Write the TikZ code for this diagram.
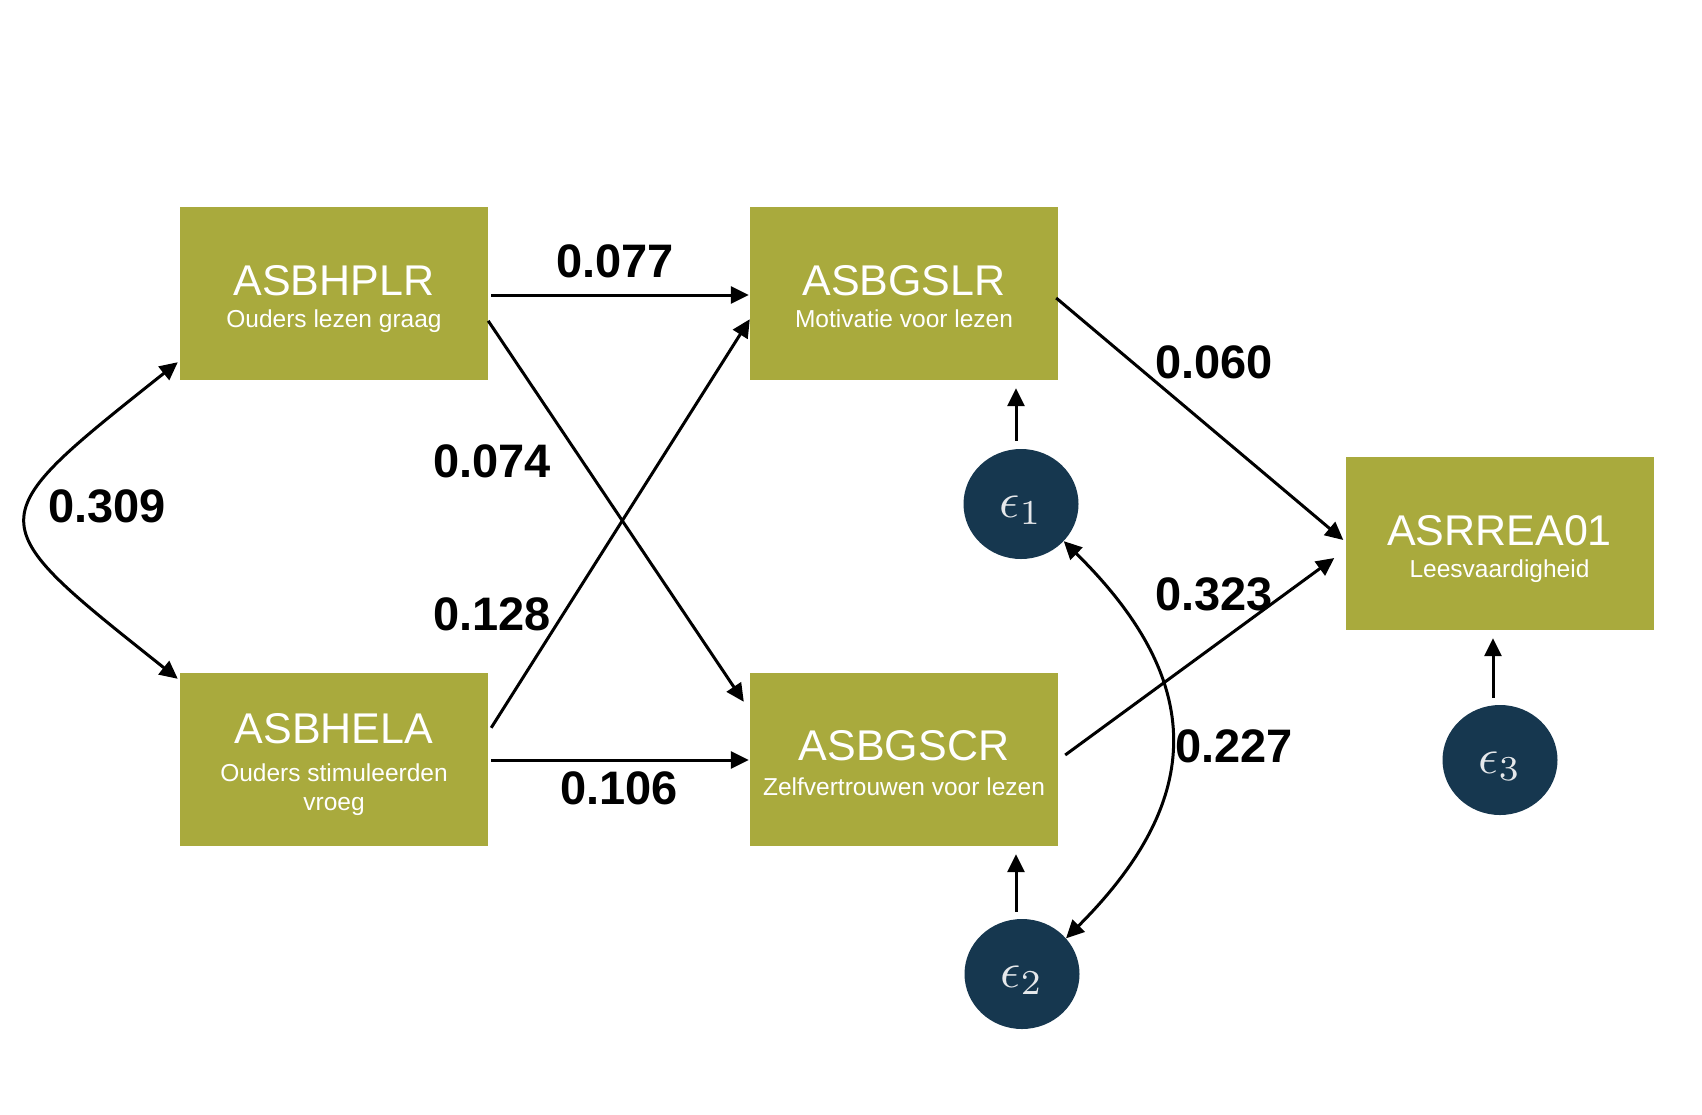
\documentclass[tikz,border=0pt]{standalone}
\usepackage{fontspec}
\usepackage{graphicx}
\setmainfont{Liberation Sans}
\usetikzlibrary{arrows.meta,calc,shapes.geometric}
\definecolor{boxolive}{HTML}{A9AA3D}
\definecolor{errnavy}{HTML}{16374F}
\definecolor{errtext}{HTML}{E6E8EB}
\newcommand{\errlab}[1]{\raisebox{-6pt}{\scalebox{5}{$\epsilon_{#1}$}}}
\tikzset{
  box/.style={fill=boxolive, draw=none, minimum width=308pt, minimum height=173pt, inner sep=0pt},
  err/.style={ellipse, fill=errnavy, draw=none, minimum width=115pt, minimum height=110pt, inner sep=0pt,
    text=errtext},
  arr/.style={-{Triangle[length=18pt,width=17pt]}, line width=3pt},
  dbl/.style={{Triangle[length=18pt,width=17pt]}-{Triangle[length=18pt,width=17pt]}, line width=3pt},
  coef/.style={font=\fontsize{47}{47}\selectfont\bfseries, inner sep=0pt, anchor=base west},
  ttl/.style={text=white, font=\fontsize{43}{43}\selectfont, inner sep=0pt, anchor=base},
  subt/.style={text=white, font=\fontsize{24.5}{24.5}\selectfont, inner sep=0pt, anchor=base}
}
\begin{document}
\begin{tikzpicture}[x=1pt,y=-1pt]
\useasboundingbox[fill=white] (0,0) rectangle (1702,1114);

% boxes
\node[box] (hp) at (334,293.5) {};
\node[box] (gs) at (904,293.5) {};
\node[box] (he) at (334,759.5) {};
\node[box] (gc) at (904,759.5) {};
\node[box] (rr) at (1499.5,543.5) {};

\node[ttl]  (hpT) at ($(hp.north)+(0,89)$)  {ASBHPLR};
\node[subt] (hpS) at ($(hp.north)+(0,121)$) {Ouders lezen graag};
\node[ttl]  (gsT) at ($(gs.north)+(0,89)$)  {ASBGSLR};
\node[subt] (gsS) at ($(gs.north)+(0,121)$) {Motivatie voor lezen};
\node[ttl]  (heT) at ($(he.north)+(0,71)$)  {ASBHELA};
\node[subt] (heS) at ($(he.north)+(0,109)$) {Ouders stimuleerden};
\node[subt] (heS2) at ($(he.north)+(0,138)$) {vroeg};
\node[ttl]  (gcT) at ($(gc.north)+(0,88)$)  {ASBGSCR};
\node[subt] (gcS) at ($(gc.north)+(0,123)$) {Zelfvertrouwen voor lezen};
\node[ttl]  (rrT) at ($(rr.north)+(0,89)$)  {ASRREA01};
\node[subt] (rrS) at ($(rr.north)+(0,121)$) {Leesvaardigheid};

% error terms
\node[err] (e1) at (1021,504) {};
\node[err] (e2) at (1022,974) {};
\node[err] (e3) at (1500,760) {};
\node[text=errtext, inner sep=0pt] (e1L) at ($(e1.center)+(0,6)$) {\errlab{1}};
\node[text=errtext, inner sep=0pt] (e2L) at ($(e2.center)+(0,6)$) {\errlab{2}};
\node[text=errtext, inner sep=0pt] (e3L) at ($(e3.center)+(0,6)$) {\errlab{3}};

% paths
\draw[arr] ($(hp.east)+(3,1.5)$) -- ($(gs.west)+(-1,1.5)$);
\draw[arr] ($(hp.north east)+(0,114)$) -- ($(gc.north west)+(-6,29)$);
\draw[arr] ($(he.north east)+(3,55)$) -- ($(gs.south west)+(0,-61)$);
\draw[arr] ($(he.east)+(3,0.5)$) -- ($(gc.west)+(-1,0.5)$);
\draw[arr] ($(gs.east)+(-2,4.5)$) -- ($(rr.west)+(-2,-3.5)$);
\draw[arr] ($(gc.east)+(7,-4.5)$) -- ($(rr.west)+(-11,14.5)$);

\draw[arr] ($(e1.north)+(-5,-8)$) -- ($(gs.south)+(112,8)$);
\draw[arr] ($(e2.north)+(-6,-7)$) -- ($(gc.south)+(112,8)$);
\draw[arr] ($(e3.north)+(-7,-7)$) -- ($(rr.south)+(-6.5,8)$);

% covariances
\draw[dbl] (e1.-41) .. controls +(142,140) and +(140,-140) .. (e2.39);
\draw[dbl] ($(hp.south west)+(-2,-18)$) .. controls +(-201,160) and +(-201,-160) .. ($(he.north west)+(-2,6)$);

% coefficients
\node[coef] (c077) at (556,277) {0.077};
\node[coef] (c074) at (433,477) {0.074};
\node[coef] (c128) at (433,630) {0.128};
\node[coef] (c106) at (560,804) {0.106};
\node[coef] (c060) at (1155,378) {0.060};
\node[coef] (c323) at (1155,610) {0.323};
\node[coef] (c227) at (1175,762) {0.227};
\node[coef] (c309) at (48,522) {0.309};
\end{tikzpicture}
\end{document}
